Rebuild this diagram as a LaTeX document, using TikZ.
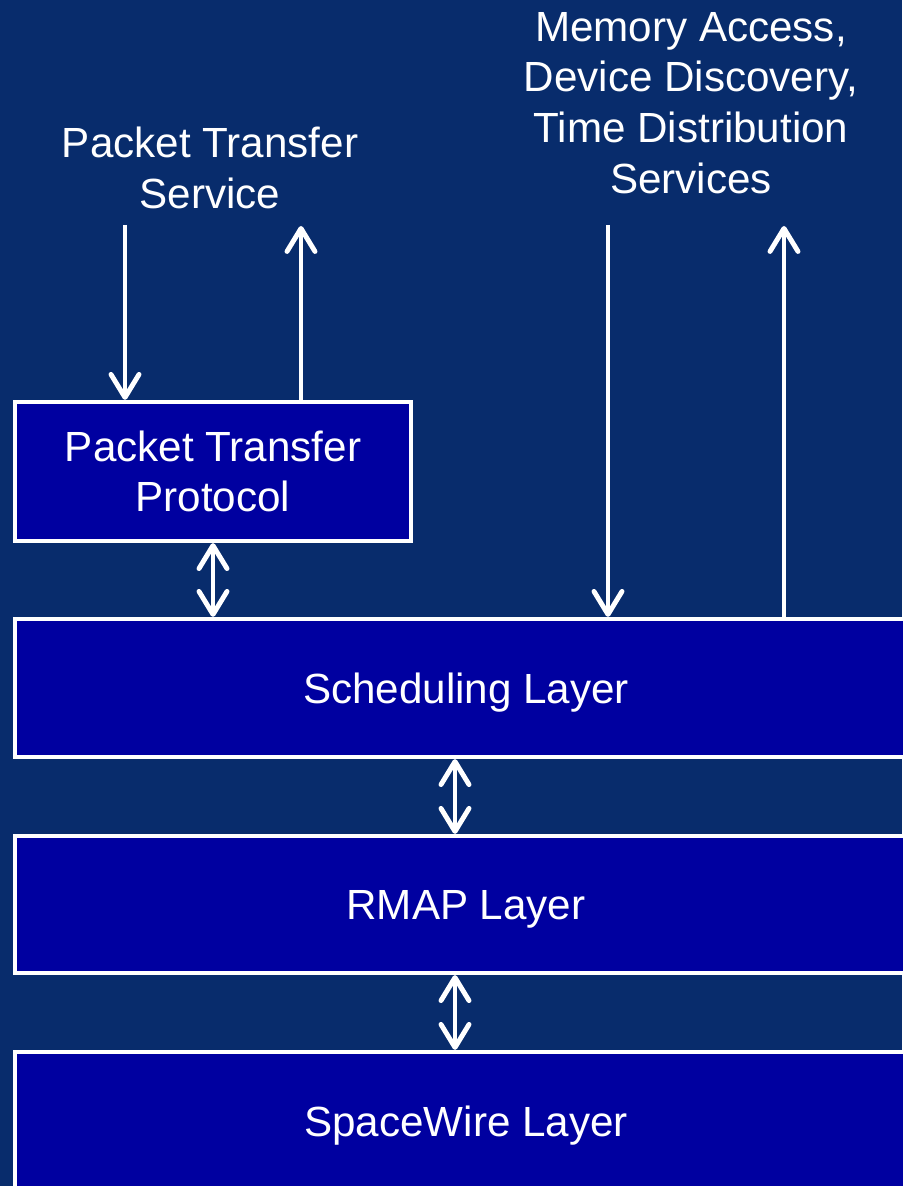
\documentclass[tikz,border=0pt]{standalone}
\usepackage{fontspec}
\setmainfont{Liberation Sans}
\usepackage{tikz}
\usetikzlibrary{arrows.meta}
\definecolor{bgblue}{RGB}{8,44,108}
\definecolor{boxblue}{RGB}{0,0,160}
\tikzset{
    layer/.style={draw=white, fill=boxblue, line width=1.2pt, rectangle, inner sep=0pt,
        text=white, align=center, font=\fontsize{12}{14.4}\selectfont},
    oneline/.style={text depth=0pt},
    lbl/.style={text=white, align=center, font=\fontsize{12}{14.4}\selectfont},
    arr/.style={white, line width=1.4pt, -{Straight Barb[length=2.3mm, width=2.8mm, round]}},
    darr/.style={white, line width=1.4pt, {Straight Barb[length=2.3mm, width=2.8mm, round]}-{Straight Barb[length=2.3mm, width=2.8mm, round]}}
}
\begin{document}
\begin{tikzpicture}
    \fill[bgblue] (0,0) rectangle (9.02,11.86);
    \useasboundingbox (0,0) rectangle (9.02,11.86);
    \node[layer, minimum width=3.96cm, minimum height=1.39cm] (ptp) at (2.13,7.145) {Packet Transfer\\Protocol};
    \node[layer, oneline, minimum width=9.02cm, minimum height=1.38cm] (sched) at (4.66,4.98) {Scheduling Layer};
    \node[layer, oneline, minimum width=9.02cm, minimum height=1.37cm] (rmap) at (4.66,2.815) {RMAP Layer};
    \node[layer, oneline, minimum width=9.02cm, minimum height=1.38cm] (spw) at (4.66,0.65) {SpaceWire Layer};
    \node[lbl] (pts) at (2.10,10.18) {Packet Transfer\\Service};
    \node[lbl] (svc) at (6.91,10.83) {Memory Access,\\Device Discovery,\\Time Distribution\\Services};
    \coordinate (ptsin) at (1.25,9.61);
    \coordinate (ptsout) at (3.01,9.60);
    \coordinate (svcin) at (6.08,9.61);
    \coordinate (svcout) at (7.84,9.60);
    \coordinate (mid) at (4.55,0);
    \draw[arr] (ptsin) -- (ptsin |- ptp.north);
    \draw[arr] (ptsout |- ptp.north) -- (ptsout);
    \draw[darr] (ptp.south) -- (ptp.south |- sched.north);
    \draw[arr] (svcin) -- (svcin |- sched.north);
    \draw[arr] (svcout |- sched.north) -- (svcout);
    \draw[darr] (mid |- sched.south) -- (mid |- rmap.north);
    \draw[darr] (mid |- rmap.south) -- (mid |- spw.north);
\end{tikzpicture}
\end{document}
